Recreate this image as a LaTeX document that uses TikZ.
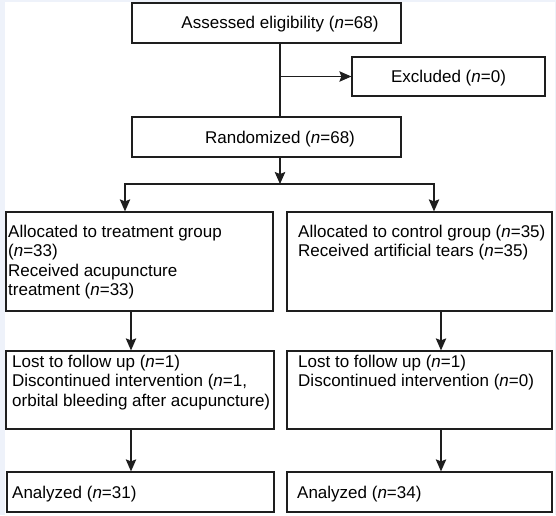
\documentclass[tikz,border=0pt]{standalone}
\usepackage{fontspec}
\setmainfont{Liberation Sans}
\usepackage{xcolor}
\definecolor{ColBg}{RGB}{238,242,250}
\definecolor{ColLine}{RGB}{30,30,30}
\usepackage{tikz}
\usetikzlibrary{arrows.meta}
\tikzstyle{Box}=[rectangle,draw=ColLine,fill=white,line width=1.3pt,inner sep=0pt]
\tikzstyle{Txt}=[inner sep=0pt,align=left,font={\fontsize{17}{19.4}\selectfont}]
\tikzstyle{Edge}=[draw=ColLine,line width=1.1pt]
\tikzstyle{EdgeArrow}=[Edge,-{Stealth[length=12pt,width=10.5pt,inset=2pt]}]

\begin{document}
\begin{tikzpicture}[x=1pt,y=-1pt]
    \useasboundingbox(0,0)rectangle(556,515);
    \fill[ColBg](0,0)rectangle(556,515);
    \fill[white](5,2)rectangle(555,515);
    % boxes
    \node[Box,minimum width=269,minimum height=40](assess)at(266.50,23.00){};
    \node[Box,minimum width=193,minimum height=39](excl)at(448.50,76.50){};
    \node[Box,minimum width=269,minimum height=40](rand)at(266.50,137.00){};
    \node[Box,minimum width=267,minimum height=99](treat)at(139.50,261.50){};
    \node[Box,minimum width=265,minimum height=99](ctrl)at(419.50,261.50){};
    \node[Box,minimum width=268,minimum height=78](lostT)at(140.00,390.00){};
    \node[Box,minimum width=265,minimum height=78](lostC)at(419.50,390.00){};
    \node[Box,minimum width=267,minimum height=40](anaT)at(140.50,492.00){};
    \node[Box,minimum width=265,minimum height=40](anaC)at(419.50,492.00){};
    % texts (base = last line)
    \node[Txt,anchor=base](assesstxt)at(280.00,28.00){Assessed eligibility (\textit{n}=68)};
    \node[Txt,anchor=base](excltxt)at(448.50,82.00){Excluded (\textit{n}=0)};
    \node[Txt,anchor=base](randtxt)at(280.00,143.00){Randomized (\textit{n}=68)};
    \node[Txt,anchor=base west](treattxt)at(8.00,295.70){Allocated to treatment group\\
        (\textit{n}=33)\\Received acupuncture\\treatment (\textit{n}=33)};
    \node[Txt,anchor=base west](ctrltxt)at(298.00,256.90){Allocated to control group (\textit{n}=35)\\
        Received artificial tears (\textit{n}=35)};
    \node[Txt,anchor=base west](lostTtxt)at(12.00,406.30){Lost to follow up (\textit{n}=1)\\
        Discontinued intervention (\textit{n}=1,\\orbital bleeding after acupuncture)};
    \node[Txt,anchor=base west](lostCtxt)at(298.00,386.90){Lost to follow up (\textit{n}=1)\\
        Discontinued intervention (\textit{n}=0)};
    \node[Txt,anchor=base west](anaTtxt)at(12.00,498.00){Analyzed (\textit{n}=31)};
    \node[Txt,anchor=base west](anaCtxt)at(297.00,498.00){Analyzed (\textit{n}=34)};
    % connectors
    \coordinate(split)at(280.00,76.50);
    \coordinate(fork)at(280.00,184.00);
    \coordinate(forkT)at(125.00,184.00);
    \coordinate(forkC)at(434.00,184.00);
    \coordinate(colT)at(131.00,0.00);
    \coordinate(colC)at(441.00,0.00);
    \draw[Edge](assess.south-|split)--(rand.north-|split);
    \draw[EdgeArrow](split)--(excl.west);
    \draw[EdgeArrow](rand.south-|fork)--(fork);
    \draw[EdgeArrow](fork)-|(treat.north-|forkT);
    \draw[EdgeArrow](fork)-|(ctrl.north-|forkC);
    \draw[EdgeArrow](treat.south-|colT)--(lostT.north-|colT);
    \draw[EdgeArrow](ctrl.south-|colC)--(lostC.north-|colC);
    \draw[EdgeArrow](lostT.south-|colT)--(anaT.north-|colT);
    \draw[EdgeArrow](lostC.south-|colC)--(anaC.north-|colC);
\end{tikzpicture}
\end{document}
